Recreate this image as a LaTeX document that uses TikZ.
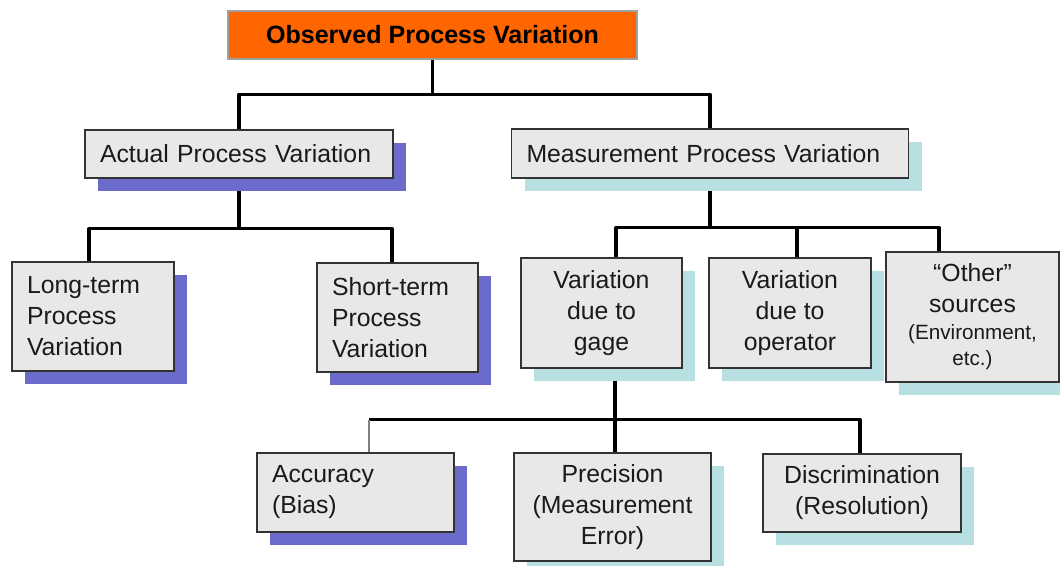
\documentclass[tikz,border=0pt]{standalone}
\usepackage{fontspec}
\setmainfont{Liberation Sans}
\usetikzlibrary{shadows,backgrounds}
\definecolor{boxfill}{HTML}{E8E8E8}
\definecolor{boxline}{HTML}{333333}
\definecolor{headfill}{HTML}{FF6600}
\definecolor{headline}{HTML}{A0A0A0}
\definecolor{purpshade}{HTML}{6B6BCC}
\definecolor{tealshade}{HTML}{B8DFE2}
\definecolor{textcol}{HTML}{1A1A1A}
\definecolor{stubgray}{HTML}{7F7F7F}

\begin{document}
\begin{tikzpicture}[x=0.75pt,y=-0.75pt,
  conn/.style={line width=2.4pt, line join=round, black},
  card/.style={draw=boxline, line width=1.1pt, fill=boxfill, text=textcol,
    font=\fontsize{18.6}{23.25}\selectfont, inner sep=0pt},
  dims/.style 2 args={minimum width=#1*0.75pt, minimum height=#2*0.75pt},
  lbox/.style={card, align=left, inner xsep=11.25pt},
  cbox/.style={card, align=center},
  purpshadow/.style={drop shadow={shadow xshift=9.75pt, shadow yshift=-9.75pt,
    fill=purpshade, draw=none, opacity=1}},
  tealshadow/.style={drop shadow={shadow xshift=9.75pt, shadow yshift=-9.75pt,
    fill=tealshade, draw=none, opacity=1}},
  head/.style={draw=headline, line width=0.8pt, fill=headfill, text=black,
    font=\fontsize{18.8}{23.5}\selectfont\bfseries, inner sep=0pt}
]
\useasboundingbox (0,0) rectangle (1060,565);

% top of the tree
\node[head, dims={409}{48}] (top) at (432.5,35) {Observed Process Variation};

% second level
\node[lbox, purpshadow, text width=208.5pt, minimum height=36pt] (act) at (239,154)
  {Actual Process Variation};
\node[lbox, tealshadow, text width=275.25pt, minimum height=36.75pt] (meas) at (710,153.5)
  {Measurement Process Variation};

% actual process branch
\node[lbox, purpshadow, text width=99pt, minimum height=81.75pt] (long) at (93,316.5)
  {Long-term\\Process\\Variation};
\node[lbox, purpshadow, text width=98.25pt, minimum height=81.75pt] (short) at (397.5,317.5)
  {Short-term\\Process\\Variation};

% measurement process branch
\node[cbox, tealshadow, dims={161}{110}] (gage) at (601.5,313)
  {Variation\\due to\\gage};
\node[cbox, tealshadow, dims={162}{110}] (oper) at (790,313)
  {Variation\\due to\\operator};
\node[cbox, tealshadow, dims={173}{130}] (other) at (972.5,317)
  {“Other”\\sources\\[-3.4pt]{\fontsize{15.5}{20.25}\selectfont (Environment,}\\[-3.4pt]{\fontsize{15.5}{20.25}\selectfont etc.)}};

% gage branch
\node[lbox, purpshadow, text width=125.25pt, minimum height=59.25pt] (acc) at (355.5,492.5)
  {Accuracy\\(Bias)};
\node[cbox, tealshadow, dims={197}{108}] (prec) at (612.5,507)
  {Precision\\(Measurement\\Error)};
\node[cbox, tealshadow, dims={198}{78}] (disc) at (862,493)
  {Discrimination\\(Resolution)};

% connectors, kept behind the boxes and their shadows
\begin{pgfonlayer}{background}
  \draw[conn] (top.south) -- ++(0,35) coordinate (b1);
  \draw[conn] (act.north) |- (b1) -| (meas.north);

  \draw[conn] (act.south) -- ++(0,50) coordinate (b2);
  \draw[conn] ([xshift=-3pt]long.north) |- (b2) -| ([xshift=-4.1pt]short.north);

  \draw[conn] (meas.south) -- ++(0,49) coordinate (b3);
  \draw[conn] ([xshift=10.9pt]gage.north) |- (b3) -| ([xshift=-25.1pt]other.north);
  \draw[conn] ([xshift=5.25pt]oper.north) -- ([xshift=5.25pt]oper.north |- b3);

  \draw[conn] ([xshift=10.1pt]gage.south) -- ++(0,51) coordinate (b4)
    -- ([xshift=10.1pt]gage.south |- prec.north);
  \draw[conn] ([xshift=10.1pt]acc.north |- b4) -| ([xshift=-1.5pt]disc.north);
  \draw[conn, stubgray, line width=1.9pt] ([xshift=10.1pt]acc.north) -- ([xshift=10.1pt]acc.north |- b4);
\end{pgfonlayer}
\end{tikzpicture}
\end{document}
